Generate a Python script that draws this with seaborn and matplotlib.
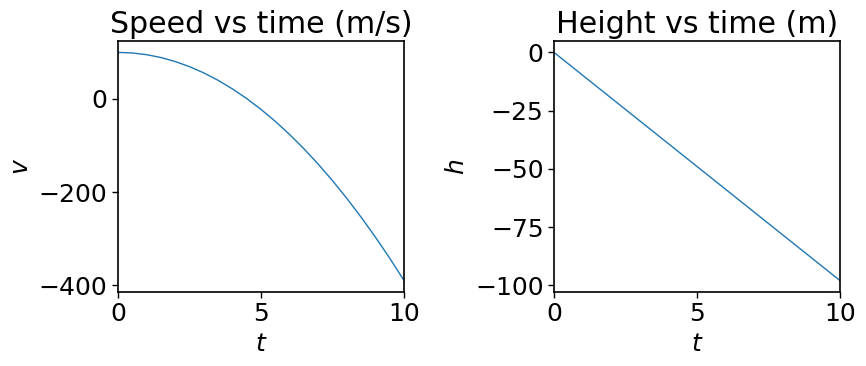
import numpy as np
import pandas as pd
import seaborn as sns
import matplotlib
matplotlib.use('Agg')
import matplotlib.pyplot as plt

# values
t_speed = [0, 0.5, 1, 1.5, 2, 2.5, 3, 3.5, 4, 4.5, 5,
           5.5, 6, 6.5, 7, 7.5, 8, 8.5, 9, 9.5, 10]
speed = [100, 98.8, 95.1, 89.0, 80.4, 69.4, 55.9, 40.0, 21.6, 0.8, -22.5,
         -48.2, -76.4, -107.0, -140.1, -175.6, -213.6, -254.0, -296.9, -342.2, -390.0]
t_height = [0, 1, 2, 3, 4, 5, 6, 7, 8, 9, 10]
height = [0, -9.8, -19.6, -29.4, -39.2, -49.0, -58.8, -68.6, -78.4, -88.2, -98.0]

sns.set_style("ticks")
plt.rcParams['font.size'] = 18
plt.rcParams['axes.titlesize'] = 21.6
plt.rcParams['axes.labelsize'] = 18
plt.rcParams['xtick.labelsize'] = 18
plt.rcParams['ytick.labelsize'] = 18
plt.rcParams['text.color'] = 'black'
plt.rcParams['axes.labelcolor'] = 'black'

fig, axes = plt.subplots(1, 2, figsize=(8.66, 3.66), dpi=100)
fig.subplots_adjust(left=0.1363, right=0.970, top=0.888, bottom=0.2022, wspace=0.524)

df_v = pd.DataFrame({'t': t_speed, 'v': speed})
df_h = pd.DataFrame({'t': t_height, 'h': height})

sns.lineplot(data=df_v, x='t', y='v', ax=axes[0], color='#1f77b4', linewidth=1)
axes[0].set_title("Speed vs time (m/s)", color='black')
axes[0].set_xlabel("$t$")
axes[0].set_ylabel("$v$")
axes[0].set_xlim(0, 10)

sns.lineplot(data=df_h, x='t', y='h', ax=axes[1], color='#1f77b4', linewidth=1)
axes[1].set_title("Height vs time (m)", color='black')
axes[1].set_xlabel("$t$")
axes[1].set_ylabel("$h$")
axes[1].set_xlim(0, 10)
axes[1].set_yticks([0, -25, -50, -75, -100])

for ax in axes:
    ax.set_xticks([0, 5, 10])
    for s in ax.spines.values():
        s.set_visible(True)
        s.set_color('black')
        s.set_linewidth(1.2)
    ax.tick_params(colors='black', labelcolor='black', direction='out', length=4, width=1)

plt.savefig('out.png', dpi=100)
